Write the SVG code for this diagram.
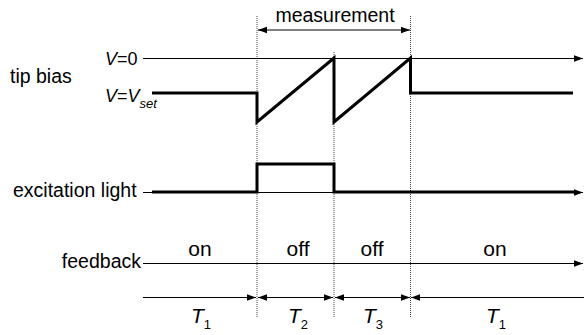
<svg xmlns="http://www.w3.org/2000/svg" width="584" height="335" viewBox="0 0 584 335">
<style>
text{font-family:"Liberation Sans",Arial,sans-serif;fill:#000}
.lbl{font-size:19.5px}
.v{font-size:18px}
.big{font-size:21px}
.it{font-style:italic}
.thin{stroke:#000;stroke-width:1;fill:none}
.thick{stroke:#000;stroke-width:3;fill:none;stroke-linejoin:miter}
.dot{stroke:#444;stroke-width:1;stroke-dasharray:1 1;fill:none}
</style>
<defs>
<marker id="ah" markerWidth="10" markerHeight="8" refX="9" refY="4" orient="auto-start-reverse" markerUnits="userSpaceOnUse">
<path d="M0,0.8 L9,4 L0,7.2 Z" fill="#000"/>
</marker>
</defs>
<g id="guides">
<line class="dot" x1="257" y1="16" x2="257" y2="318"/>
<line class="dot" x1="334" y1="52" x2="334" y2="318"/>
<line class="dot" x1="410.5" y1="16" x2="410.5" y2="318"/>
</g>
<g id="connectors">
<line class="thin" x1="258" y1="30" x2="410" y2="30" marker-start="url(#ah)" marker-end="url(#ah)"/>
<line class="thin" x1="143" y1="58.5" x2="583" y2="58.5" marker-end="url(#ah)"/>
<line class="thin" x1="143" y1="192.5" x2="583" y2="192.5" marker-end="url(#ah)"/>
<line class="thin" x1="143" y1="263.5" x2="583" y2="263.5" marker-end="url(#ah)"/>
<line class="thin" x1="143" y1="297.5" x2="256" y2="297.5" marker-end="url(#ah)"/>
<line class="thin" x1="258" y1="297.5" x2="333" y2="297.5" marker-start="url(#ah)" marker-end="url(#ah)"/>
<line class="thin" x1="335" y1="297.5" x2="410" y2="297.5" marker-start="url(#ah)" marker-end="url(#ah)"/>
<line class="thin" x1="411" y1="297.5" x2="584" y2="297.5" marker-start="url(#ah)"/>
</g>
<g id="tip-bias">
<text class="lbl" x="10" y="83">tip bias</text>
<text class="v" x="105" y="65"><tspan class="it">V</tspan>=0</text>
<text class="v" x="105" y="102"><tspan class="it">V</tspan>=<tspan class="it">V</tspan><tspan class="it" font-size="13" dy="6">set</tspan></text>
<path class="thick" d="M152,93 H257 V122 L334,58 V122 L410.5,58 V93 H573"/>
</g>
<g id="excitation-light">
<text class="lbl" x="13" y="197">excitation light</text>
<path class="thick" d="M152,192 H257 V164 H334 V192 H575"/>
</g>
<g id="feedback">
<text class="lbl" x="141" y="268" text-anchor="end">feedback</text>
<text class="big" x="200" y="256" text-anchor="middle">on</text>
<text class="big" x="298" y="256" text-anchor="middle">off</text>
<text class="big" x="372" y="256" text-anchor="middle">off</text>
<text class="big" x="495" y="256" text-anchor="middle">on</text>
</g>
<g id="measurement">
<text class="lbl" x="335" y="22" text-anchor="middle">measurement</text>
</g>
<g id="times">
<text class="big it" x="191" y="323">T<tspan font-size="13" font-style="normal" dy="6">1</tspan></text>
<text class="big it" x="288" y="323">T<tspan font-size="13" font-style="normal" dy="6">2</tspan></text>
<text class="big it" x="363" y="323">T<tspan font-size="13" font-style="normal" dy="6">3</tspan></text>
<text class="big it" x="486" y="323">T<tspan font-size="13" font-style="normal" dy="6">1</tspan></text>
</g>
</svg>
